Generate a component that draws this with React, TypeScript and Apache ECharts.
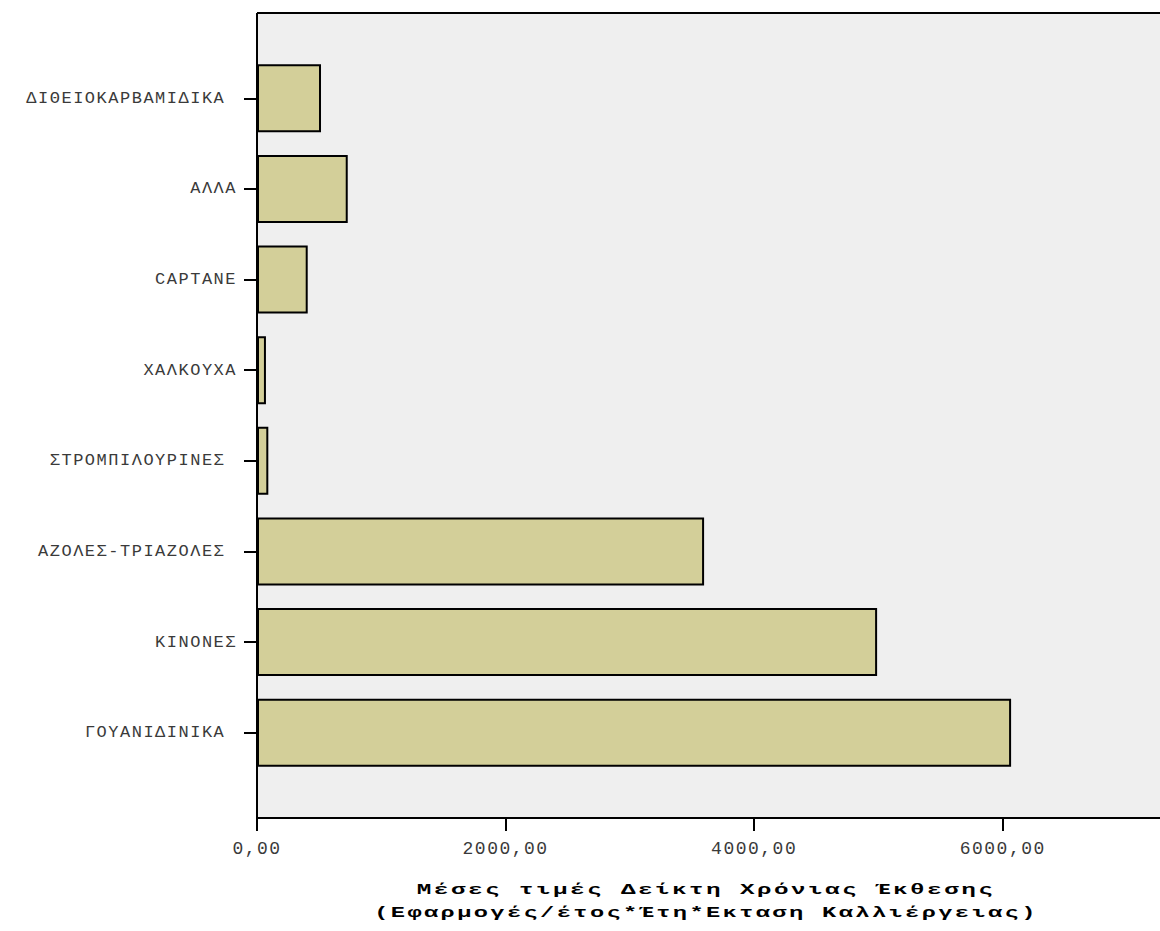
import React, { useEffect, useRef } from "react";
import * as echarts from "echarts";

// Categories listed bottom-to-top (as ECharts draws a category y axis)
const categories = [
  "ΓΟΥΑΝΙΔΙΝΙΚΑ ",
  "ΚΙΝΟΝΕΣ",
  "ΑΖΟΛΕΣ-ΤΡΙΑΖΟΛΕΣ ",
  "ΣΤΡΟΜΠΙΛΟΥΡΙΝΕΣ ",
  "ΧΑΛΚΟΥΧΑ",
  "CAPTANE",
  "ΑΛΛΑ",
  "ΔΙΘΕΙΟΚΑΡΒΑΜΙΔΙΚΑ ",
];
const meanValues = [6067, 4989, 3597, 91, 72, 408, 730, 515];

const xTickInterval = 2000;
const xMin = 0;
const xMax = 7265;

const titleLine1 = "Μέσες τιμές Δείκτη Χρόνιας Έκθεσης";
const titleLine2 = "(Εφαρμογές/έτος*Έτη*Εκταση Καλλιέργειας)";

const W = 1160;
const H = 931;

export default function App() {
  const ref = useRef<HTMLDivElement>(null);

  useEffect(() => {
    if (!ref.current) return;
    const chart = echarts.init(ref.current, null, { renderer: "svg" });
    const plotLeft = 257;
    const plotTop = 13;
    const axisY = 818;
    const gridTop = 53;
    const gridBottom = 153;
    const gridBottomY = H - gridBottom;

    chart.setOption({
      animation: false,
      backgroundColor: "#ffffff",
      grid: {
        left: plotLeft,
        right: 0,
        top: gridTop,
        bottom: gridBottom,
        containLabel: false,
      },
      xAxis: {
        type: "value",
        min: xMin,
        max: xMax,
        interval: xTickInterval,
        offset: axisY - gridBottomY,
        splitLine: { show: false },
        axisLine: { show: true, lineStyle: { color: "#000", width: 2 } },
        axisTick: { show: true, length: 13, lineStyle: { color: "#000", width: 2 } },
        axisLabel: {
          showMaxLabel: false,
          margin: 22,
          color: "#3a3a3a",
          fontFamily: "Liberation Mono",
          fontSize: 18,
          formatter: (v: number) => v.toFixed(2).replace(".", ","),
        },
      },
      yAxis: {
        type: "category",
        data: categories,
        axisLine: { show: false },
        axisTick: {
          show: true,
          alignWithLabel: true,
          length: 13,
          lineStyle: { color: "#000", width: 2 },
        },
        splitLine: { show: false },
        axisLabel: {
          margin: 20,
          color: "#3a3a3a",
          fontFamily: "Liberation Mono",
          fontSize: 17,
        },
      },
      graphic: [
        {
          type: "rect",
          z: -10,
          silent: true,
          shape: { x: plotLeft, y: plotTop, width: W - plotLeft, height: axisY - plotTop },
          style: { fill: "#efefef" },
        },
        {
          type: "line",
          silent: true,
          shape: { x1: plotLeft, y1: plotTop, x2: W, y2: plotTop },
          style: { stroke: "#000", lineWidth: 2 },
        },
        {
          type: "line",
          silent: true,
          shape: { x1: plotLeft, y1: plotTop, x2: plotLeft, y2: axisY },
          style: { stroke: "#000", lineWidth: 2 },
        },
        {
          type: "text",
          silent: true,
          x: 706,
          y: 890,
          scaleX: 1.62,
          style: {
            text: titleLine1,
            fill: "#000",
            font: "bold 15px 'Liberation Mono'",
            textAlign: "center",
            textVerticalAlign: "middle",
          },
        },
        {
          type: "text",
          silent: true,
          x: 706,
          y: 913,
          scaleX: 1.58,
          style: {
            text: titleLine2,
            fill: "#000",
            font: "bold 15px 'Liberation Mono'",
            textAlign: "center",
            textVerticalAlign: "middle",
          },
        },
      ],
      series: [
        {
          type: "bar",
          data: meanValues,
          barCategoryGap: "25%",
          silent: true,
          itemStyle: {
            color: "#d3cf99",
            borderColor: "#000",
            borderWidth: 2,
          },
        },
      ],
    });
    return () => chart.dispose();
  }, []);

  return (
    <>
      <style>{`#chart-root text { letter-spacing: 1.5px; }`}</style>
      <div
        id="chart-root"
        ref={ref}
        style={{ position: "fixed", left: 0, top: 0, width: W, height: H, background: "#fff" }}
      />
    </>
  );
}
